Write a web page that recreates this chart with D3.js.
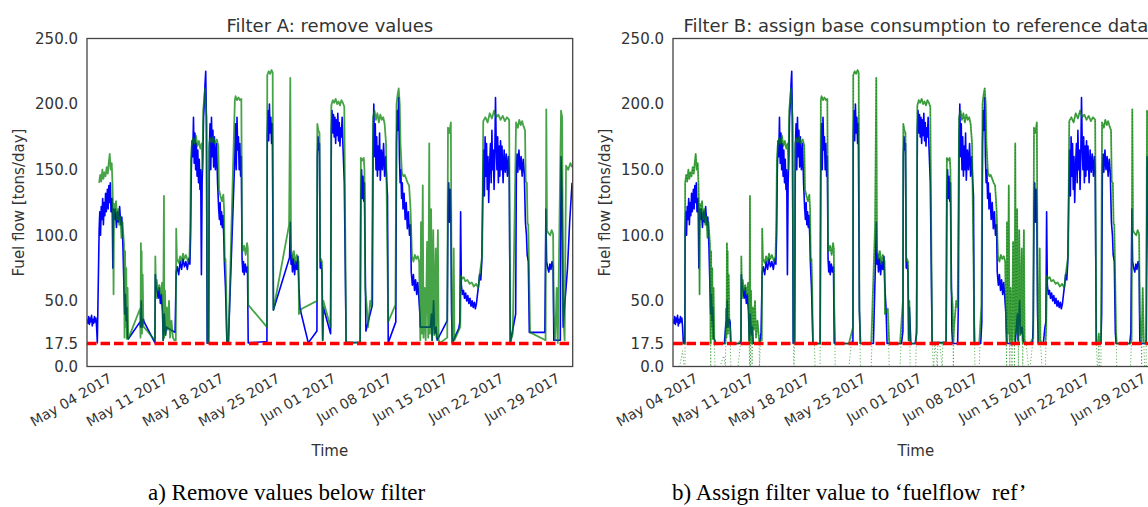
<!DOCTYPE html>
<html><head><meta charset="utf-8">
<script src="https://cdn.jsdelivr.net/npm/d3@7"></script>
<style>
body{margin:0;background:#fff}
svg{display:block}
text{font-family:"DejaVu Sans",sans-serif;fill:#333}
</style>
</head><body>
<svg id="chart" width="1148" height="507"></svg>
<script>
// ---------------- data ----------------
const panelTitles = ["Filter A: remove values", "Filter B: assign base consumption to reference data"];
const captions = ["a) Remove values below filter", "b) Assign filter value to \u2018fuelflow\u2002ref\u2019"];
const yLabel = "Fuel flow [tons/day]";
const xLabel = "Time";
const yTickValues = [0, 17.5, 50, 100, 150, 200, 250];
const yTickLabels = ["0.0", "17.5", "50.0", "100.0", "150.0", "200.0", "250.0"];
const xTickDays = [0, 7, 14, 21, 28, 35, 42, 49, 56]; // days after May 04 2017
const xTickLabels = ["May 04 2017", "May 11 2017", "May 18 2017", "May 25 2017", "Jun 01 2017", "Jun 08 2017", "Jun 15 2017", "Jun 22 2017", "Jun 29 2017"];
const filterValue = 17.5;
const timeDomainDays = [-2.44, 58.27];

// [days after May 04 2017, tons/day] — main fuel flow (blue)
const mainFlow = [
[-2.44,36],[-2.32,33],[-2.23,38],[-2.14,32],[-2.05,37],[-1.96,34],[-1.87,39],[-1.78,31],[-1.69,36],[-1.6,33],[-1.51,38],[-1.42,34],[-1.33,37],[-1.24,30],[-1.15,18],[-1.06,0],[-0.97,0],
[-0.92,105],[-0.84,118],[-0.75,100],[-0.66,122],[-0.57,112],[-0.48,128],[-0.39,108],[-0.30,125],[-0.21,115],[-0.12,132],[-0.03,118],[0.11,135],[0.20,120],[0.29,138],[0.38,125],[0.47,140],[0.56,118],[0.70,128],[0.79,75],[0.88,120],
[0.97,112],[1.10,120],[1.24,106],[1.37,118],[1.51,110],[1.64,122],[1.78,108],[1.91,114],[2.05,92],
[2.18,60],[2.27,40],[2.36,55],[2.45,35],[2.54,45],[2.63,22],[2.72,21],
[2.90,0],[3.98,0],[4.19,34],[4.25,30],[4.34,50],[4.43,30],[4.61,36],[4.70,34],[4.79,0],[5.87,0],[6.05,18],
[6.10,70],[6.19,62],[6.32,58],[6.46,52],[6.59,60],[6.73,48],[6.86,55],[6.99,42],
[7.09,20],[7.22,40],[7.36,24],[7.49,30],[7.58,0],[8.39,0],[8.57,26],
[8.71,72],[8.84,76],[9.02,70],[9.20,80],[9.38,74],[9.56,82],[9.74,76],[9.92,80],[10.10,74],[10.28,82],[10.42,78],
[10.51,100],[10.60,150],[10.69,172],[10.78,160],[10.87,190],[10.96,155],[11.05,178],[11.14,150],[11.23,170],[11.32,145],[11.41,165],[11.50,140],[11.59,158],[11.68,135],[11.77,150],[11.86,70],[11.95,140],[12.04,160],
[12.13,190],[12.22,200],[12.31,215],[12.40,225],[12.49,185],
[12.58,17.8],[12.76,17.8],
[12.85,165],[12.94,185],[13.03,150],[13.12,190],[13.21,160],[13.30,180],[13.39,152],[13.48,175],[13.61,150],[13.75,170],[13.88,140],
[14.02,120],[14.11,112],[14.20,125],[14.29,108],[14.38,118],[14.47,106],[14.56,115],[14.65,100],[14.74,78],
[14.87,60],[15.05,18],[15.23,18],[15.32,0],[15.95,0],
[16.04,160],[16.13,185],[16.22,150],[16.31,190],[16.40,165],[16.49,175],[16.58,150],[16.67,170],[16.76,145],[16.85,160],
[16.94,82],[17.03,72],[17.12,80],[17.21,70],[17.35,78],[17.48,72],[17.62,76],
[17.71,18],[17.84,0],[19.82,0],[20.05,19],
[20.09,175],[20.18,195],[20.27,172],[20.36,200],[20.45,178],[20.54,190],[20.63,170],[20.72,185],
[20.86,43],[20.99,0],[22.61,0],[22.88,83],
[22.97,110],[23.06,78],[23.15,85],[23.24,72],[23.38,82],[23.51,70],[23.65,80],[23.78,74],[23.92,84],
[24.05,60],[24.19,44],[24.32,0],[25.04,0],[25.22,18],[25.31,0],[26.12,0],[26.30,27],
[26.35,160],[26.44,175],[26.53,165],[26.62,170],[26.71,75],[26.80,80],[26.93,72],[27.02,20],[27.11,45],[27.29,0],[27.83,0],[28.01,25],
[28.10,180],[28.19,195],[28.28,178],[28.37,192],[28.46,175],[28.55,190],[28.64,170],[28.73,188],[28.82,176],[28.91,193],[29.0,172],[29.09,186],[29.18,168],[29.27,182],[29.36,175],[29.45,190],[29.54,170],[29.72,140],
[29.95,18.5],[30.89,18.2],[31.70,18.5],
[31.79,130],[31.88,150],[31.97,128],[32.06,145],[32.15,126],[32.24,140],
[32.42,27],[32.51,0],[33.14,0],[33.23,47],
[33.32,170],[33.41,200],[33.50,160],[33.59,185],[33.68,150],[33.77,175],[33.86,145],[33.95,168],[34.04,150],[34.13,178],[34.22,142],[34.36,165],[34.49,150],[34.63,170],[34.76,145],[34.90,160],[35.03,140],[35.12,130],
[35.21,18],[35.30,0],[36.02,0],[36.16,34],
[36.25,170],[36.34,195],[36.43,180],[36.52,205],[36.61,160],[36.70,140],[36.79,150],[36.88,128],[36.97,140],[37.06,120],[37.19,132],[37.33,112],[37.46,125],[37.60,105],[37.73,118],[37.87,100],[38.0,108],
[38.09,72],[38.23,62],[38.36,70],[38.50,58],[38.63,66],[38.77,55],[38.90,64],[39.04,52],
[39.17,40],[39.22,30],[39.31,0],[40.34,0],[40.48,30],[40.61,40],[40.70,20],[40.88,50],[41.02,25],[41.20,30],[41.33,20],
[41.51,0],[42.50,0],[42.59,35],
[42.68,120],[42.77,140],[42.86,110],[42.95,135],[43.04,115],[43.13,40],
[43.22,18],[43.31,0],[43.85,0],[44.03,29],[44.17,34],
[44.26,118],[44.35,62],[44.48,55],[44.62,58],[44.75,52],[44.89,56],[45.02,50],[45.16,54],[45.29,48],[45.43,52],[45.56,46],[45.70,50],[45.83,45],[45.97,49],[46.10,44],[46.24,48],[46.37,55],
[46.51,62],[46.64,70],[46.78,66],[46.91,80],
[47.05,140],[47.14,165],[47.23,130],[47.32,175],[47.41,145],[47.50,170],[47.59,135],[47.68,160],[47.77,125],[47.86,150],[47.99,170],[48.08,140],[48.17,180],[48.26,150],[48.35,165],[48.44,135],[48.53,160],[48.62,205],[48.71,170],[48.80,150],[48.89,175],[48.98,140],[49.07,168],[49.16,145],[49.25,172],[49.34,150],[49.43,168],[49.57,140],[49.70,165],[49.84,148],[49.97,162],[50.11,145],[50.24,160],[50.33,150],
[50.47,18],[50.60,0],[51.05,0],[51.14,40],
[51.23,150],[51.32,162],[51.41,148],[51.55,165],[51.68,150],[51.82,160],[51.95,145],[52.09,158],[52.22,147],
[52.36,110],[52.49,100],[52.58,85],[52.72,80],
[52.85,26],[52.94,0],[54.65,0],[54.79,26],
[54.92,120],[55.01,80],[55.15,75],[55.28,72],[55.42,78],[55.55,74],[55.69,80],[55.82,76],
[55.91,20],[56.0,0],[56.63,0],[56.72,20],
[56.81,160],[56.95,130],[57.08,30],
[57.26,47],[57.44,60],[57.62,75],[57.89,110],[58.19,140]
];

// [days after May 04 2017, tons/day] — reference fuel flow (green)
const refFlow = [
[-2.44,0],[-1.6,0],[-1.24,12],[-1.06,0],[-0.93,0],
[-0.92,140],[-0.79,146],[-0.66,141],[-0.52,150],[-0.39,143],[-0.25,148],[-0.12,145],[0.02,152],[0.16,147],[0.29,156],[0.40,162],[0.52,150],[0.65,155],[0.74,140],[0.81,121],[0.88,55],[0.94,124],[1.06,118],[1.19,126],[1.33,112],[1.46,120],[1.60,108],[1.73,114],[1.87,98],[2.0,110],
[2.18,93],[2.25,22],[2.28,0],[2.32,88],[2.40,30],[2.47,75],[2.54,21],[2.63,60],[2.72,21],[2.81,0],[3.44,0],[3.89,8],[4.12,0],[4.19,44],
[4.25,22],[4.30,94],[4.34,40],[4.39,88],[4.43,25],[4.52,70],[4.61,30],[4.69,30],[4.79,0],[5.69,0],[6.05,20],
[6.10,84],[6.19,52],[6.28,66],[6.41,58],[6.59,62],[6.77,55],[6.95,64],[7.04,50],
[7.07,20],[7.12,0],[7.18,130],[7.22,22],[7.26,0],[7.31,58],[7.40,24],[7.45,0],[7.54,45],[7.67,28],[7.81,50],[7.94,22],[8.12,35],[8.30,22],[8.38,0],[8.48,20],
[8.66,20],[8.71,105],[8.80,82],[9.02,79],[9.20,84],[9.38,80],[9.56,86],[9.74,82],[9.92,85],[10.19,80],[10.37,84],
[10.46,105],[10.55,157],[10.64,168],[10.82,174],[11.0,170],[11.18,176],[11.36,168],[11.54,172],[11.72,166],[11.90,170],[11.99,150],
[12.08,195],[12.22,205],[12.31,212],[12.40,200],[12.49,190],
[12.62,17.8],[12.66,0],[12.70,0],[12.76,17.8],
[12.85,170],[12.98,174],[13.16,171],[13.34,175],[13.52,170],[13.79,173],[13.97,168],
[14.06,135],[14.24,130],[14.42,126],[14.60,131],[14.69,120],[14.78,80],[14.87,82],
[14.96,60],[15.05,18],[15.23,18],[15.32,0],[15.95,0],
[16.04,203],[16.13,206],[16.31,203],[16.49,205],[16.67,203],[16.85,204],
[16.94,95],[17.03,88],[17.21,92],[17.39,85],[17.57,94],[17.66,90],
[17.71,47],[17.84,0],[19.55,0],[20.06,30],
[20.09,222],[20.27,225],[20.45,223],[20.63,226],[20.77,224],
[20.86,43],[20.99,0],[22.34,0],[22.82,108],
[22.97,220],[23.06,90],[23.24,82],[23.42,88],[23.60,78],[23.78,85],[24.01,80],
[24.05,40],[24.41,44],[24.59,0],[25.94,0],[26.30,50],
[26.35,185],[26.48,180],[26.62,178],[26.71,80],[26.80,82],[26.93,80],[27.02,20],[27.11,50],[27.2,0],[27.9,0],[28.01,30],
[28.10,199],[28.28,203],[28.46,201],[28.64,204],[28.82,200],[29.0,202],[29.18,199],[29.36,203],[29.54,201],[29.72,198],
[29.95,18.5],[30.1,0],[30.15,0],[30.3,18.3],[30.6,0],[30.65,18.4],[30.89,18.2],[31.2,0],[31.3,18.3],[31.70,18.5],
[31.79,159],[31.97,157],[32.15,159],[32.24,150],[32.33,60],
[32.51,47],[32.6,0],[32.69,30],[32.96,50],[33.14,45],
[33.32,190],[33.50,195],[33.68,188],[33.86,193],[34.04,186],[34.22,192],[34.40,188],[34.58,190],[34.76,185],[34.94,170],
[35.21,34],[35.30,0],[35.84,0],[36.11,47],
[36.25,200],[36.38,207],[36.52,212],[36.65,200],[36.74,170],[36.92,148],[37.10,145],[37.28,146],[37.46,143],[37.64,140],[37.82,138],[38.0,120],[38.18,84],[38.36,80],[38.54,85],[38.72,82],[38.90,84],[39.08,80],
[39.22,20],[39.26,0],[39.31,110],[39.40,25],[39.53,138],[39.62,22],[39.66,0],[39.76,60],[39.89,20],[39.94,0],[40.07,95],[40.21,22],[40.25,0],[40.34,170],[40.43,25],[40.57,120],[40.70,20],[40.74,0],[40.84,104],[40.97,24],[41.15,90],[41.24,22],[41.28,0],[41.42,104],[41.51,20],
[41.69,18],[42.0,0],[42.2,0],[42.59,22],
[42.68,182],[42.86,178],[43.04,186],[43.13,60],[43.22,18],
[43.31,20],[43.40,90],[43.49,20],[43.67,0],[44.12,0],[44.21,30],
[44.30,69],[44.48,67],[44.66,68],[44.84,65],[45.11,66],[45.38,63],[45.65,64],[45.92,61],[46.19,63],[46.46,60],
[46.64,70],[46.82,78],[46.96,85],
[47.09,187],[47.36,190],[47.63,186],[47.90,193],[48.17,189],[48.44,195],[48.71,190],[48.98,192],[49.25,188],[49.52,191],[49.79,187],[50.06,190],[50.33,188],
[50.47,18],[50.60,0],[50.69,0],[50.78,25],[50.87,0],[51.05,0],
[51.19,186],[51.41,182],[51.59,188],[51.77,184],[51.95,187],[52.13,183],[52.31,180],
[52.40,141],[52.54,140],[52.63,109],[52.72,108],
[52.94,26],[53.03,0],[54.74,0],[54.88,20],
[54.97,196],[55.06,104],[55.19,102],[55.46,100],[55.64,104],[55.82,101],
[55.91,40],[56.09,20],[56.13,0],[56.27,60],[56.41,18],[56.5,0],[56.7,0],
[56.81,195],[56.95,190],[57.08,40],[57.26,20],[57.3,0],
[57.44,153],[57.71,150],[57.98,155],[58.19,152]
];

// ---------------- drawing ----------------
const svg = d3.select("#chart");
const t0 = Date.UTC(2017, 4, 4);
const toDate = d => new Date(t0 + d * 864e5);

const W = 485.7, H = 328;
const panelX = [87, 673], panelY = 38.5;

const x = d3.scaleUtc().domain(timeDomainDays.map(toDate)).range([0, W]);
const y = d3.scaleLinear().domain([0, 250]).range([H, 0]);
const line = d3.line().x(p => x(toDate(p[0]))).y(p => y(p[1]));

const defs = svg.append("defs");
defs.append("clipPath").attr("id", "plotclip")
  .append("rect").attr("x", 0).attr("y", 0).attr("width", W).attr("height", H);

[0, 1].forEach(pi => {
  const g = svg.append("g").attr("transform", `translate(${panelX[pi]},${panelY})`);

  g.append("text").attr("x", W / 2).attr("y", -7).attr("text-anchor", "middle")
    .style("font-size", "18px").text(panelTitles[pi]);

  const ya = g.append("g").call(d3.axisLeft(y).tickValues(yTickValues).tickSize(0).tickPadding(9)
      .tickFormat((d, i) => yTickLabels[i]));
  ya.select(".domain").remove();
  ya.selectAll("text").style("font-size", "15px").style("font-family", "DejaVu Sans").attr("fill", "#333");

  const xa = g.append("g").attr("transform", `translate(0,${H})`)
    .call(d3.axisBottom(x).tickValues(xTickDays.map(toDate)).tickSize(0)
      .tickFormat((d, i) => xTickLabels[i]));
  xa.select(".domain").remove();
  xa.selectAll("text")
    .style("font-size", "14px").style("font-family", "DejaVu Sans").attr("fill", "#333")
    .attr("text-anchor", "end").attr("y", 0).attr("dy", "0.72em")
    .attr("transform", "translate(1,6) rotate(-30)");

  g.append("text").attr("transform", `translate(-68,${H / 2}) rotate(-90)`)
    .attr("text-anchor", "middle").attr("dy", "0.35em").style("font-size", "15px").text(yLabel);
  g.append("text").attr("x", W / 2).attr("y", H + 89).attr("text-anchor", "middle")
    .style("font-size", "15px").text(xLabel);

  const plot = g.append("g").attr("clip-path", "url(#plotclip)");

  let mainData, refData;
  if (pi === 0) {
    mainData = mainFlow.filter(p => p[1] >= filterValue);
    refData = refFlow.filter(p => p[1] >= filterValue);
  } else {
    mainData = mainFlow.map(p => [p[0], Math.max(p[1], filterValue)]);
    refData = refFlow.map(p => [p[0], Math.max(p[1], filterValue)]);
    plot.append("path").datum(refFlow).attr("d", line)
      .attr("fill", "none").attr("stroke", "#008000").attr("stroke-width", 1)
      .attr("stroke-dasharray", "1.2,2").attr("stroke-opacity", 0.6);
  }

  plot.append("path").datum(mainData).attr("d", line)
    .attr("fill", "none").attr("stroke", "#0000ff").attr("stroke-width", 1.6)
    .attr("stroke-linejoin", "round");
  plot.append("path").datum(refData).attr("d", line)
    .attr("fill", "none").attr("stroke", "#008000").attr("stroke-width", 1.8)
    .attr("stroke-opacity", 0.72).attr("stroke-linejoin", "round");

  plot.append("path").datum(timeDomainDays.map(d => [d, filterValue])).attr("d", line)
    .attr("fill", "none").attr("stroke", "#ff0000").attr("stroke-width", 3.5)
    .attr("stroke-dasharray", "9.5,4");

  g.append("rect").attr("x", 0).attr("y", 0).attr("width", W).attr("height", H)
    .attr("fill", "none").attr("stroke", "#444").attr("stroke-width", 1.3);
});

const capX = [148, 672];
captions.forEach((c, i) => {
  svg.append("text").attr("x", capX[i]).attr("y", 500)
    .style("font-family", "'Liberation Serif','Times New Roman',serif")
    .style("font-size", "23px").style("fill", "#000")
    .attr("xml:space", "preserve").text(c);
});
</script>
</body></html>
